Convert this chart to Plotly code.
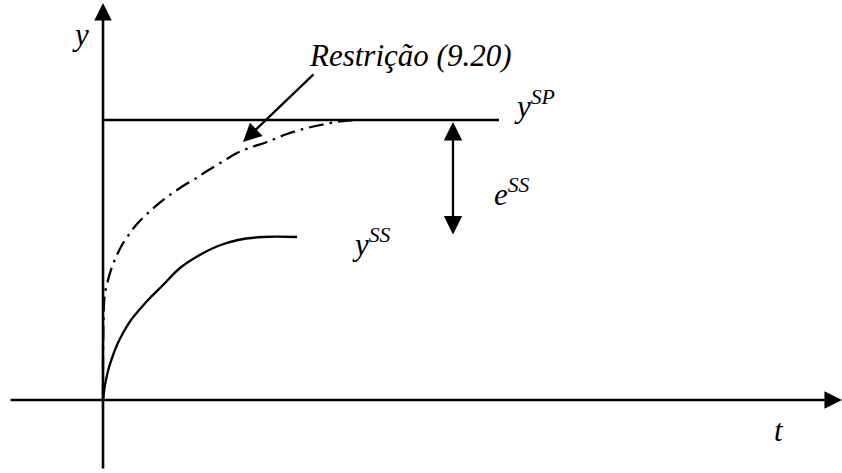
import plotly.graph_objects as go

# Coordinates: t grows to the right of the y axis, y grows upward from the t axis.
# Steady-state response y^SS
t_ss = [0, 2, 5, 9, 14, 20, 28, 37, 47, 60, 77, 95, 115, 135, 160, 194]
y_ss = [0, 15, 29, 42, 55, 67, 80, 91, 102, 115, 132, 144, 154, 160, 163, 163]

# Trajectory limited by constraint (9.20)
t_rest = [0, 0, 0.5, 1, 2, 5, 9, 14, 19, 27, 34, 44, 54, 64, 77, 95, 104, 119, 134, 149, 164, 184, 204, 222, 240, 254]
y_rest = [0, 40, 80, 97, 107, 120, 133, 145, 155, 167, 176, 186, 195, 203, 212, 223, 229, 238, 247, 253, 258, 266, 272, 276, 279, 280]

# Set point level and its extent
y_sp = 280
t_sp_end = 396

# Offset error e^SS between the set point and the steady state
t_err = 350
y_err_top = 278
y_err_bottom = 164

# Axis extents
t_axis = (-94, 739)
y_axis = (-70, 397)

# Pointer for the constraint label
rest_tail = (212, 327)
rest_tip = (140, 258)

FONT = "Liberation Serif"
FS = 31

fig = go.Figure()

fig.add_trace(go.Scatter(
    x=[0, t_sp_end], y=[y_sp, y_sp], mode="lines",
    line=dict(color="black", width=2.5), hoverinfo="skip", showlegend=False))

fig.add_trace(go.Scatter(
    x=t_rest, y=y_rest, mode="lines",
    line=dict(color="black", width=2.3, dash="15px,6px,2.5px,6px", shape="spline", smoothing=1),
    hoverinfo="skip", showlegend=False))

fig.add_trace(go.Scatter(
    x=t_ss, y=y_ss, mode="lines",
    line=dict(color="black", width=2.3, shape="spline", smoothing=1),
    hoverinfo="skip", showlegend=False))

annotations = []

def arrow(x0, y0, x1, y1, width=2.5, size=1.2, side="end"):
    annotations.append(dict(
        x=x1, y=y1, ax=x0, ay=y0, xref="x", yref="y", axref="x", ayref="y",
        text="", showarrow=True, arrowhead=2, arrowsize=size, arrowwidth=width,
        arrowcolor="black", arrowside=side, startarrowhead=2, startarrowsize=size))

# axes
arrow(0, y_axis[0], 0, y_axis[1], width=2.6, size=1.35)
arrow(t_axis[0], 0, t_axis[1], 0, width=2.6, size=1.35)
# e^SS double arrow
arrow(t_err, y_err_bottom, t_err, y_err_top, width=2.3, size=1.6, side="end+start")
# constraint pointer
arrow(rest_tail[0], rest_tail[1], rest_tip[0], rest_tip[1], width=2.3, size=1.6)

def label(x, y, text, size=FS):
    annotations.append(dict(
        x=x, y=y, xref="x", yref="y", text=text, showarrow=False,
        xanchor="center", yanchor="middle",
        font=dict(family=FONT, size=size, color="black", style="italic")))

label(-23, 366, "y")
label(676, -30, "t")
label(307, 345, "Restrição (9.20)")
label(431, 296, "y<sup>SP</sup>")
label(409, 208, "e<sup>SS</sup>")
label(268, 158, "y<sup>SS</sup>")

fig.update_layout(
    width=842, height=473,
    margin=dict(l=0, r=0, t=0, b=0),
    paper_bgcolor="white", plot_bgcolor="white",
    font=dict(family=FONT, size=FS, color="black"),
    xaxis=dict(range=[-103, 739], visible=False, fixedrange=True),
    yaxis=dict(range=[-73, 400], visible=False, fixedrange=True),
    annotations=annotations,
    showlegend=False,
)

fig.write_html("out.html")
